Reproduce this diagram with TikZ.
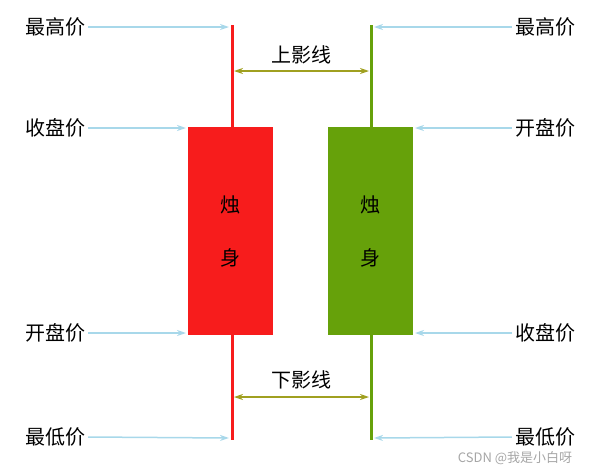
\documentclass[tikz,border=0pt]{standalone}
\usepackage{fontspec}
\newfontfamily\cjk{Noto Sans CJK SC}
\usetikzlibrary{arrows.meta}
\definecolor{cred}{HTML}{F71C1C}
\definecolor{cgreen}{HTML}{66A10A}
\definecolor{cblue}{HTML}{A8D8EA}
\definecolor{colive}{HTML}{A0A020}
\begin{document}
\begin{tikzpicture}[x=1pt,y=-1pt,
  lbl/.style={font=\cjk\fontsize{20}{20}\selectfont,inner sep=0},
  barrow/.style={cblue,line width=1.5pt,-{Stealth[length=9pt,width=6pt]}},
  oarrow/.style={colive,line width=1.5pt,{Stealth[length=9pt,width=6pt]}-{Stealth[length=9pt,width=6pt]}}]
\useasboundingbox (0,0) rectangle (600,475);
% candles
\draw[cred,line width=3pt] (232,25) -- (232,440);
\fill[cred] (188,127) rectangle (273,335);
\draw[cgreen,line width=3pt] (371,25) -- (371,440);
\fill[cgreen] (328,127) rectangle (413,335);
\node[lbl] (r1) at (230.5,205) {烛};
\node[lbl] (r2) at (230.5,258) {身};
\node[lbl] (g1) at (370.5,205) {烛};
\node[lbl] (g2) at (370.5,258) {身};
% coordinates
\coordinate (rt) at (229,27); \coordinate (rb) at (229,438);
\coordinate (rbt) at (186,128); \coordinate (rbb) at (186,333);
\coordinate (gt) at (374,27); \coordinate (gb) at (374,438);
\coordinate (gbt) at (415,128); \coordinate (gbb) at (415,333);
% left labels
\node[lbl] (l1) at (55,27) {最高价};
\node[lbl] (l2) at (55,128) {收盘价};
\node[lbl] (l3) at (55,333) {开盘价};
\node[lbl] (l4) at (55,437) {最低价};
\draw[barrow] (l1.east) ++(3,0) -- (rt);
\draw[barrow] (l2.east) ++(3,0) -- (rbt);
\draw[barrow] (l3.east) ++(3,0) -- (rbb);
\draw[barrow] (l4.east) ++(3,0) -- (rb);
% right labels
\node[lbl] (q1) at (545,27) {最高价};
\node[lbl] (q2) at (545,128) {开盘价};
\node[lbl] (q3) at (545,333) {收盘价};
\node[lbl] (q4) at (545,437) {最低价};
\draw[barrow] (q1.west) ++(-3,0) -- (gt);
\draw[barrow] (q2.west) ++(-3,0) -- (gbt);
\draw[barrow] (q3.west) ++(-3,0) -- (gbb);
\draw[barrow] (q4.west) ++(-3,0) -- (gb);
% shadows
\coordinate (sa) at (234,71); \coordinate (sb) at (369,71);
\coordinate (sc) at (234,397); \coordinate (sd) at (369,397);
\draw[oarrow] (sa) -- (sb);
\draw[oarrow] (sc) -- (sd);
\node[lbl] (up) at (301.5,55) {上影线};
\node[lbl] (dn) at (301.5,380) {下影线};
\node[font=\cjk\fontsize{13}{13}\selectfont,text=gray!70,inner sep=0] (wm) at (515,458) {CSDN @我是小白呀};
\end{tikzpicture}
\end{document}
